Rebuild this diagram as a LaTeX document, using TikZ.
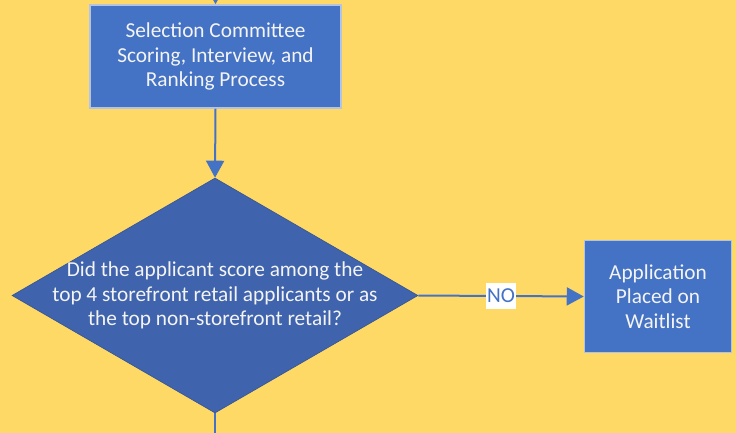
\documentclass[tikz,border=0pt]{standalone}
\usepackage{fontspec}
\setmainfont{Carlito}
\usetikzlibrary{shapes.geometric,arrows.meta}
\definecolor{bgyellow}{HTML}{FFD966}
\definecolor{boxblue}{HTML}{4472C4}
\definecolor{decblue}{HTML}{3F63AD}
\definecolor{boxedge}{HTML}{B4C3DE}
\definecolor{txtwhite}{HTML}{F4F4F4}
\begin{document}
\begin{tikzpicture}[x=1pt, y=-1pt,
  process/.style = {draw=boxedge, line width=1.5pt, fill=boxblue, text=txtwhite, align=center, inner sep=0pt,
    font=\fontsize{21.3}{24.8}\selectfont},
  decision/.style = {diamond, draw=decblue!85!black, line width=0.6pt, fill=decblue, inner sep=0pt,
    minimum width=406pt, minimum height=235pt},
  dectext/.style = {text=txtwhite, align=center, font=\fontsize{21.3}{24.8}\selectfont},
  flow/.style = {draw=boxblue, line width=2pt, -{Triangle[length=17pt,width=18pt]}},
  plain/.style = {draw=boxblue, line width=2pt},
  answer/.style = {fill=white, text=boxblue, inner sep=1.5pt, minimum height=26pt, font=\fontsize{21.3}{24}\selectfont}]
\fill[bgyellow] (0,0) rectangle (736,433);
\useasboundingbox (0,0) rectangle (736,433);

\node[process, minimum width=251pt, minimum height=103pt] (proc) at (215.5,56.5)
  {Selection Committee\\Scoring,  Interview, and\\Ranking Process};
\node[decision, label={[dectext]center:{Did the applicant score among the\\top 4 storefront retail applicants or as\\the top non-storefront retail?}}]
  (dec) at (215,295.5) {};
\node[process, minimum width=147pt, minimum height=112pt] (wait) at (658,296.5)
  {Application\\Placed on\\Waitlist};
\coordinate (top) at (215.5,-30);
\coordinate (bottom) at (215,460);

\draw[flow] (top) -- (proc.north);
\draw[flow] (proc.south) -- (dec.north);
\draw[flow] (dec.east) -- node[answer] {NO} (wait.west);
\draw[plain] (dec.south) -- (bottom);
\end{tikzpicture}
\end{document}
